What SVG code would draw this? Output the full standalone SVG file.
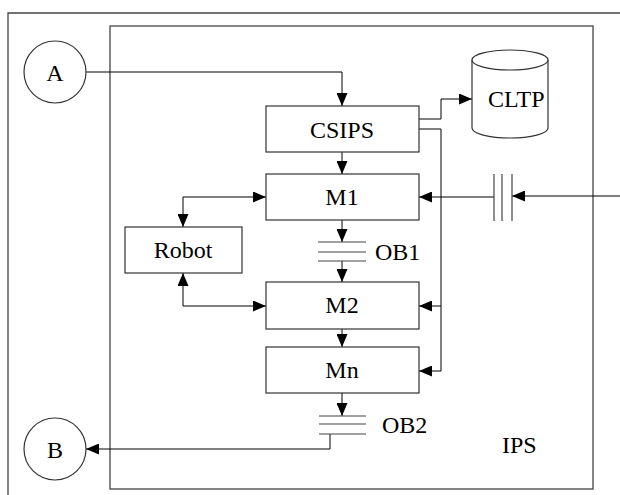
<svg xmlns="http://www.w3.org/2000/svg" width="620" height="495" viewBox="0 0 620 495">
<style>
.frame{fill:none;stroke:#444;stroke-width:1.3}
.box{fill:#fff;stroke:#333;stroke-width:1.2}
.ln{fill:none;stroke:#000;stroke-width:1}
.plate{fill:none;stroke:#444;stroke-width:1.2}
.t{font-family:"Liberation Serif","Times New Roman",serif;font-size:24px;fill:#000}
.tc{text-anchor:middle}
</style>
<defs>
<marker id="ah" viewBox="0 0 13 11" refX="13" refY="5.5" markerWidth="13" markerHeight="11" markerUnits="userSpaceOnUse" orient="auto-start-reverse">
<path d="M0,0 L13,5.5 L0,11 Z" fill="#000"/>
</marker>
</defs>
<rect width="620" height="495" fill="#fff"/>
<path class="frame" d="M621,13 H8 V496"/>
<g id="IPS">
<rect class="frame" x="110" y="26" width="483" height="463"/>
<text class="t" x="502" y="453">IPS</text>
</g>
<g id="connectors">
<path class="ln" d="M86,72 H342 V106" marker-end="url(#ah)"/>
<path class="ln" d="M342,152 V174" marker-end="url(#ah)"/>
<path class="ln" d="M419,119 H441 V99 H472" marker-end="url(#ah)"/>
<path class="ln" d="M419,129 H441 V371 H419" marker-end="url(#ah)"/>
<path class="ln" d="M441,306 H419" marker-end="url(#ah)"/>
<path class="ln" d="M494,197 H419" marker-end="url(#ah)"/>
<path class="ln" d="M621,196 H512" marker-end="url(#ah)"/>
<path class="ln" d="M342,220 V242" marker-end="url(#ah)"/>
<path class="ln" d="M342,261 V282" marker-end="url(#ah)"/>
<path class="ln" d="M342,329 V347" marker-end="url(#ah)"/>
<path class="ln" d="M342,393 V416" marker-end="url(#ah)"/>
<path class="ln" d="M330,434 V449 H86" marker-end="url(#ah)"/>
<path class="ln" d="M183,227 V197 H266" marker-start="url(#ah)" marker-end="url(#ah)"/>
<path class="ln" d="M183,273 V306 H266" marker-start="url(#ah)" marker-end="url(#ah)"/>
</g>
<g id="A">
<circle class="box" cx="55" cy="72" r="31"/>
<text class="t tc" x="55" y="81" font-size="23">A</text>
</g>
<g id="B">
<circle class="box" cx="55" cy="449" r="31"/>
<text class="t tc" x="55" y="458" font-size="23">B</text>
</g>
<g id="CSIPS">
<rect class="box" x="266" y="106" width="153" height="46"/>
<text class="t tc" x="342" y="138">CSIPS</text>
</g>
<g id="CLTP">
<path class="box" d="M472,60 A38,10 0 0 1 548,60 V128 A38,10 0 0 1 472,128 Z"/>
<path class="box" d="M472,60 A38,10 0 0 0 548,60"/>
<text class="t" x="488" y="107">CLTP</text>
</g>
<g id="M1">
<rect class="box" x="266" y="174" width="153" height="46"/>
<text class="t tc" x="342" y="205">M1</text>
</g>
<g id="Robot">
<rect class="box" x="125" y="227" width="117" height="46"/>
<text class="t tc" x="183" y="258">Robot</text>
</g>
<g id="OB1">
<path class="plate" d="M318,242 H366 M318,252 H366 M318,261 H366"/>
<text class="t" x="375" y="260" font-size="23">OB1</text>
</g>
<g id="M2">
<rect class="box" x="266" y="282" width="153" height="47"/>
<text class="t tc" x="342" y="313">M2</text>
</g>
<g id="Mn">
<rect class="box" x="266" y="347" width="153" height="46"/>
<text class="t tc" x="342" y="378">Mn</text>
</g>
<g id="OB2">
<path class="plate" d="M319,416 H366 M319,424 H366 M319,434 H366"/>
<text class="t" x="382" y="433" font-size="23">OB2</text>
</g>
<g id="capacitor">
<path class="plate" d="M494,174 V221 M502,174 V221 M512,174 V221"/>
</g>
</svg>
